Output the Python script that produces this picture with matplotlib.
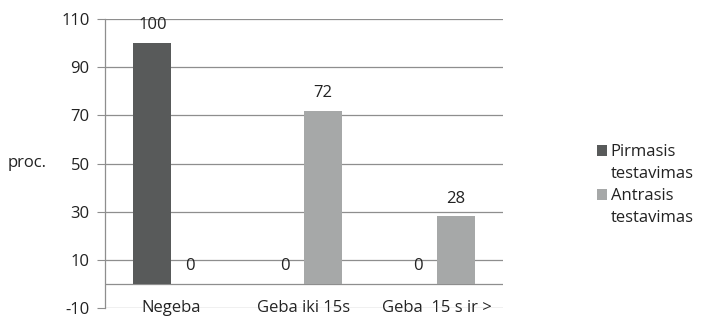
import matplotlib
matplotlib.use("Agg")
import matplotlib.pyplot as plt
from matplotlib.patches import Patch
import numpy as np

categories = ["Negeba", "Geba iki 15s", "Geba  15 s ir >"]
series_names = ["Pirmasis testavimas", "Antrasis testavimas"]
pirmasis = [100, 0, 0]
antrasis = [0, 72, 28]
y_ticks = [-10, 10, 30, 50, 70, 90, 110]

colors = ["#585a5a", "#a6a8a8"]
grid_color = "#8e8e8e"
text_color = "#222222"

plt.rcParams["font.family"] = ["Open Sans", "DejaVu Sans"]
fs = 12

fig = plt.figure(figsize=(7.01, 3.21), dpi=100)
ax = fig.add_axes([105 / 701, 1 - 308 / 321, 398 / 701, 289 / 321])

x = np.arange(len(categories))
width = 0.286
for i, (vals, col) in enumerate(zip([pirmasis, antrasis], colors)):
    pos = x + (i - 0.5) * width
    ax.bar(pos, vals, width=width, color=col, zorder=3)
    for p, v in zip(pos, vals):
        ax.annotate(f"{v}", (p, v), xytext=(0, 7), textcoords="offset points",
                    ha="center", va="bottom", color=text_color, fontsize=fs, zorder=4)

ax.set_xlim(-0.5, 2.5)
ax.set_ylim(-10, 110)
ax.set_yticks(y_ticks)
ax.set_yticklabels([str(t) for t in y_ticks], fontsize=fs, color=text_color)
ax.yaxis.grid(True, color=grid_color, linewidth=0.9, zorder=0)
ax.axhline(0, color=grid_color, linewidth=0.9, zorder=2)
ax.tick_params(axis="y", length=6, color=grid_color, pad=5)

ax.set_xticks(x)
ax.set_xticklabels(categories, fontsize=fs, color=text_color)
ax.tick_params(axis="x", length=0, pad=-6)

for s in ["top", "right", "bottom"]:
    ax.spines[s].set_visible(False)
ax.spines["left"].set_color(grid_color)
ax.spines["left"].set_linewidth(0.9)

fig.text(8 / 701, 1 - 163 / 321, "proc.", ha="left", va="center",
         fontsize=fs, color=text_color)

# Legend: each series name wraps onto a second line, swatch beside the first line
handles, labels = [], []
for name, col in zip(series_names, colors):
    first, second = name.split(" ", 1)
    handles += [Patch(facecolor=col, edgecolor="none"), Patch(facecolor="none", edgecolor="none")]
    labels += [first, second]
leg = fig.legend(handles, labels, loc="upper left",
                 bbox_to_anchor=(597 / 701, 1 - 144 / 321),
                 frameon=False, fontsize=fs, handlelength=0.62, handleheight=0.62,
                 handletextpad=0.2, labelspacing=0.36, borderaxespad=0, borderpad=0)
for t in leg.get_texts():
    t.set_color(text_color)

fig.savefig("out.png", dpi=100)
